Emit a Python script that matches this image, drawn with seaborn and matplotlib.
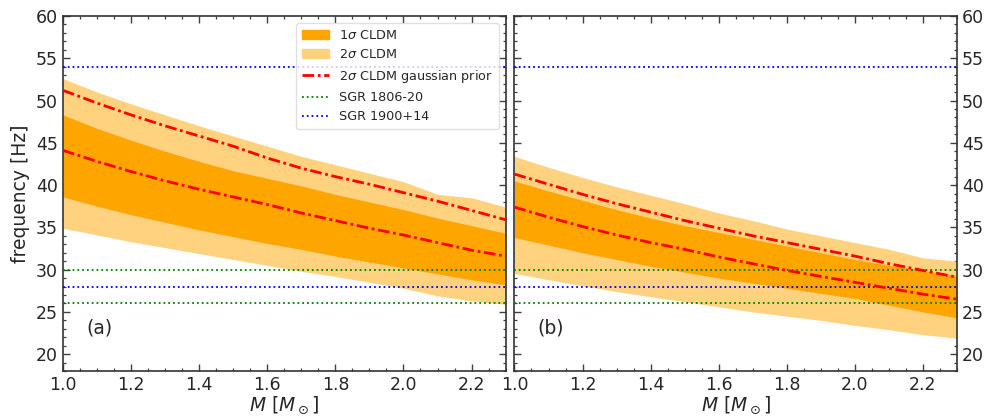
import numpy as np
import pandas as pd
import matplotlib
matplotlib.use("Agg")
import matplotlib.pyplot as plt
import seaborn as sns
from matplotlib.patches import Patch
from matplotlib.lines import Line2D
from matplotlib.ticker import MultipleLocator

# ---------------- data ----------------
mass = [1.0, 1.1, 1.2, 1.3, 1.4, 1.5, 1.6, 1.7, 1.8, 1.9, 2.0, 2.1, 2.2, 2.3]

# panel (a)
a_2s_hi = [52.6, 51.0, 49.6, 48.3, 47.0, 45.8, 44.6, 43.4, 42.4, 41.4, 40.4, 38.9, 38.5, 37.4]
a_1s_hi = [48.3, 46.7, 45.3, 44.0, 42.8, 41.7, 40.8, 39.9, 38.9, 38.0, 37.1, 36.1, 35.2, 34.3]
a_1s_lo = [38.6, 37.5, 36.5, 35.6, 34.7, 33.9, 33.1, 32.4, 31.6, 30.9, 30.2, 29.5, 28.8, 28.2]
a_2s_lo = [34.9, 34.1, 33.3, 32.6, 31.9, 31.2, 30.5, 29.8, 29.2, 28.5, 27.8, 26.9, 26.3, 25.9]
a_gp_hi = [51.2, 49.7, 48.3, 47.0, 45.8, 44.6, 43.2, 42.0, 41.0, 40.1, 39.1, 38.1, 37.0, 35.9]
a_gp_lo = [44.1, 42.8, 41.6, 40.5, 39.5, 38.6, 37.7, 36.7, 35.8, 34.9, 34.1, 33.2, 32.3, 31.6]

# panel (b)
b_2s_hi = [43.4, 42.1, 40.9, 39.8, 38.8, 37.8, 36.7, 35.8, 34.8, 34.0, 33.2, 32.4, 31.4, 31.0]
b_1s_hi = [40.5, 39.3, 38.2, 37.1, 36.1, 35.2, 34.4, 33.6, 32.8, 32.0, 31.2, 30.5, 29.9, 29.3]
b_1s_lo = [33.8, 32.9, 32.0, 31.2, 30.4, 29.7, 29.0, 28.4, 27.8, 27.2, 26.6, 25.8, 25.0, 24.3]
b_2s_lo = [29.55, 28.8, 28.1, 27.4, 26.8, 26.2, 25.6, 25.0, 24.5, 24.0, 23.4, 22.9, 22.3, 21.9]
b_gp_hi = [41.3, 40.1, 38.9, 37.8, 36.8, 35.8, 34.9, 34.0, 33.2, 32.4, 31.6, 30.7, 29.9, 29.1]
b_gp_lo = [37.4, 36.2, 35.1, 34.1, 33.2, 32.4, 31.5, 30.7, 29.9, 29.2, 28.5, 27.8, 27.1, 26.5]

sgr1806 = [30.0, 26.0]
sgr1900 = [28.0, 54.0]

panel_labels = ["(a)", "(b)"]
legend_labels = [r"1$\sigma$ CLDM", r"2$\sigma$ CLDM", r"2$\sigma$ CLDM gaussian prior",
                 "SGR 1806-20", "SGR 1900+14"]
yticks = [20, 25, 30, 35, 40, 45, 50, 55, 60]
xticks = [1.0, 1.2, 1.4, 1.6, 1.8, 2.0, 2.2]

# ---------------- style ----------------
sns.set_style("ticks", {"xtick.direction": "in", "ytick.direction": "in",
                        "axes.edgecolor": ".2"})
plt.rcParams["font.family"] = ["DejaVu Sans"]

c1 = "#FFA500"
c2 = "#FFD280"
dashdot = (0, (4.2, 1.3, 1.0, 1.3))

fig = plt.figure(figsize=(9.85, 4.16), dpi=100)
axes = fig.subplots(1, 2)
fig.subplots_adjust(left=0.064, right=0.9716, top=0.9615, bottom=0.108, wspace=0.02)

panels = [
    (a_2s_hi, a_1s_hi, a_1s_lo, a_2s_lo, a_gp_hi, a_gp_lo),
    (b_2s_hi, b_1s_hi, b_1s_lo, b_2s_lo, b_gp_hi, b_gp_lo),
]

for i, (ax, (s2h, s1h, s1l, s2l, gph, gpl)) in enumerate(zip(axes, panels)):
    ax.fill_between(mass, s2l, s2h, color=c2, lw=0, zorder=1)
    ax.fill_between(mass, s1l, s1h, color=c1, lw=0, zorder=2)
    df = pd.DataFrame({"M": mass + mass,
                       "f": gph + gpl,
                       "which": ["hi"] * len(mass) + ["lo"] * len(mass)})
    sns.lineplot(data=df, x="M", y="f", units="which", estimator=None, ax=ax,
                 color="red", lw=2.0, linestyle=dashdot, zorder=4)
    for v in sgr1806:
        ax.axhline(v, color="green", ls=":", lw=1.3, zorder=3)
    for v in sgr1900:
        ax.axhline(v, color="blue", ls=":", lw=1.3, zorder=3)

    ax.set_xlim(1.0, 2.3)
    ax.set_ylim(18, 60)
    ax.set_xticks(xticks)
    ax.set_yticks(yticks)
    ax.xaxis.set_minor_locator(MultipleLocator(0.05))
    ax.yaxis.set_minor_locator(MultipleLocator(1))
    ax.tick_params(which="both", direction="in", top=True, right=True, left=True, bottom=True,
                   labelsize=12.5, color=".25")
    ax.tick_params(which="major", length=5, width=1)
    ax.tick_params(which="minor", length=2.5, width=0.9)
    ax.set_xlabel(r"$M\ [M_\odot]$", fontsize=13.5, labelpad=0)
    ax.text(0.052, 0.12, panel_labels[i], transform=ax.transAxes, fontsize=13.5,
            color=".15", va="center", ha="left")
    for s in ax.spines.values():
        s.set_linewidth(1.2)

axes[0].set_ylabel("frequency [Hz]", fontsize=13.5)
axes[1].set_ylabel("")
axes[1].tick_params(labelleft=False, labelright=True)

handles = [Patch(color=c1), Patch(color=c2),
           Line2D([], [], color="red", lw=2.0, linestyle=dashdot),
           Line2D([], [], color="green", ls=":", lw=1.3),
           Line2D([], [], color="blue", ls=":", lw=1.3)]
leg = axes[0].legend(handles, legend_labels, loc="upper right", bbox_to_anchor=(0.984, 0.98),
                     borderaxespad=0, fontsize=9.2, frameon=True, handlelength=2.1,
                     borderpad=0.45, labelspacing=0.5, handletextpad=0.8)
leg.get_frame().set_edgecolor("0.85")

fig.savefig("out.png", dpi=100)
